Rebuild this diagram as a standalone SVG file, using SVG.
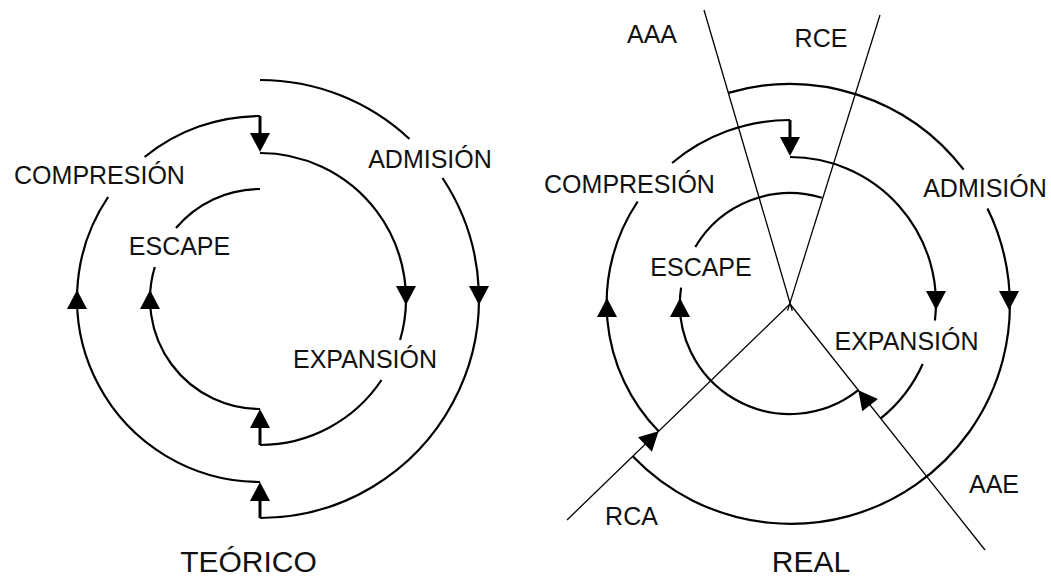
<svg xmlns="http://www.w3.org/2000/svg" xmlns:xlink="http://www.w3.org/1999/xlink" width="1051" height="577" viewBox="0 0 1051 577">
<style>
.arc{fill:none;stroke:#000;stroke-width:2.2;stroke-linecap:butt}
.stem{fill:none;stroke:#000;stroke-width:3}
.thin{fill:none;stroke:#000;stroke-width:1.3}
.lbl{font-family:"Liberation Sans",Arial,sans-serif;font-size:25px;fill:#111;text-anchor:middle}
.ttl{font-family:"Liberation Sans",Arial,sans-serif;font-size:30px;fill:#111;text-anchor:middle}
</style>
<defs>
<path id="ah" d="M0,0 L-10,-19 L10,-19 Z" fill="#000"/>
</defs>
<rect width="1051" height="577" fill="#fff"/>
<g id="connectors">
<!-- TEORICO -->
<path class="arc" d="M260,80 A219,219 0 0 1 409.5,139"/>
<path class="arc" d="M442.5,178 A219,219 0 0 1 260,518"/>
<path class="stem" d="M260,518 V492"/>
<path class="arc" d="M260,482 A183,183 0 0 1 108.1,197"/>
<path class="arc" d="M144.6,157 A183,183 0 0 1 260,116"/>
<path class="stem" d="M260,116 V136"/>
<path class="arc" d="M260,153 A146,146 0 0 1 400.1,340"/>
<path class="arc" d="M381.5,380 A146,146 0 0 1 260,445"/>
<path class="stem" d="M260,445 V420"/>
<path class="arc" d="M260,409 A110,110 0 0 1 154.8,267"/>
<path class="arc" d="M176,228 A110,110 0 0 1 260,189"/>
<use xlink:href="#ah" transform="translate(260,152)"/>
<use xlink:href="#ah" transform="translate(479,305)"/>
<use xlink:href="#ah" transform="translate(406,305)"/>
<use xlink:href="#ah" transform="translate(77,290) rotate(180)"/>
<use xlink:href="#ah" transform="translate(150,290) rotate(180)"/>
<use xlink:href="#ah" transform="translate(260,409) rotate(180)"/>
<use xlink:href="#ah" transform="translate(260,482) rotate(180)"/>
<!-- REAL -->
<path class="thin" d="M704,10 L792.3,310.7"/>
<path class="thin" d="M880,15 L787.6,310.6"/>
<path class="thin" d="M790,304 L567,520"/>
<path class="thin" d="M790,304 L985,550"/>
<path class="arc" d="M728.3,92.9 A219,219 0 0 1 963.7,169.7"/>
<path class="arc" d="M987.5,208.4 A219,219 0 0 1 632.7,456.3"/>
<path class="arc" d="M658.6,431.3 A183,183 0 0 1 637.7,201.5"/>
<path class="arc" d="M672.1,163 A183,183 0 0 1 790,120"/>
<path class="stem" d="M790,120 V140"/>
<path class="arc" d="M790,157 A146,146 0 0 1 934.9,320.5"/>
<path class="arc" d="M922.7,364 A146,146 0 0 1 880.7,418.4"/>
<path class="arc" d="M858.3,390.2 A110,110 0 0 1 681.1,287.7"/>
<path class="arc" d="M695.3,247 A110,110 0 0 1 821.8,197.7"/>
<use xlink:href="#ah" transform="translate(790,156)"/>
<use xlink:href="#ah" transform="translate(1009,310)"/>
<use xlink:href="#ah" transform="translate(936,310)"/>
<use xlink:href="#ah" transform="translate(607,298) rotate(180)"/>
<use xlink:href="#ah" transform="translate(680,298) rotate(180)"/>
<use xlink:href="#ah" transform="translate(658.6,431.3) rotate(-134.1)"/>
<use xlink:href="#ah" transform="translate(858.3,390.2) rotate(141.6)"/>
</g>
<g id="label-compresion-t"><text class="lbl" x="99.5" y="184">COMPRESIÓN</text></g>
<g id="label-admision-t"><text class="lbl" x="430" y="168">ADMISIÓN</text></g>
<g id="label-escape-t"><text class="lbl" x="179.5" y="255">ESCAPE</text></g>
<g id="label-expansion-t"><text class="lbl" x="365" y="368">EXPANSIÓN</text></g>
<g id="title-teorico"><text class="ttl" x="248.5" y="572">TEÓRICO</text></g>
<g id="label-aaa"><text class="lbl" x="652" y="43">AAA</text></g>
<g id="label-rce"><text class="lbl" x="821" y="47">RCE</text></g>
<g id="label-compresion-r"><text class="lbl" x="629.5" y="193">COMPRESIÓN</text></g>
<g id="label-admision-r"><text class="lbl" x="985" y="197">ADMISIÓN</text></g>
<g id="label-escape-r"><text class="lbl" x="701" y="276">ESCAPE</text></g>
<g id="label-expansion-r"><text class="lbl" x="906.5" y="350">EXPANSIÓN</text></g>
<g id="label-rca"><text class="lbl" x="631.5" y="525">RCA</text></g>
<g id="label-aae"><text class="lbl" x="994" y="493">AAE</text></g>
<g id="title-real"><text class="ttl" x="811" y="572">REAL</text></g>
</svg>
